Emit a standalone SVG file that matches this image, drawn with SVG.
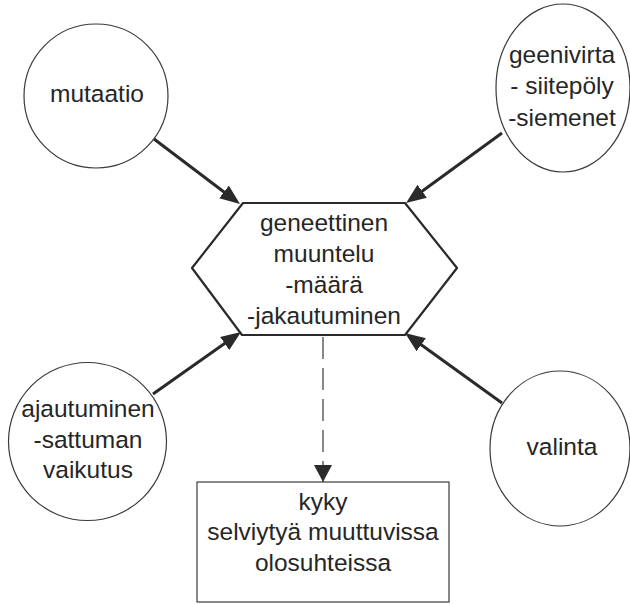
<svg xmlns="http://www.w3.org/2000/svg" width="630" height="604" viewBox="0 0 630 604">
<style>
.node{fill:#fff;stroke:#3a3a3a;stroke-width:1.2}
.hex{fill:#fff;stroke:#2a2a2a;stroke-width:2.2;stroke-linejoin:round}
.lbl{font-family:"Liberation Sans",Arial,sans-serif;font-size:24.5px;fill:#262626;text-anchor:middle}
.arr{stroke:#2a2a2a;stroke-width:3;fill:none}
.dash{stroke:#3a3a3a;stroke-width:1.2;fill:none;stroke-dasharray:22 9}
</style>
<defs>
<marker id="ah" viewBox="0 0 20 16" refX="12" refY="8" markerWidth="20" markerHeight="16" markerUnits="userSpaceOnUse" orient="auto">
<path d="M0,0 L20,8 L0,16 Z" fill="#2a2a2a"/>
</marker>
<marker id="ahd" viewBox="0 0 17 18" refX="17" refY="9" markerWidth="17" markerHeight="18" markerUnits="userSpaceOnUse" orient="auto">
<path d="M0,0 L17,9 L0,18 Z" fill="#2a2a2a"/>
</marker>
</defs>
<rect width="630" height="604" fill="#fff"/>
<g id="connectors">
<line class="arr" x1="154" y1="139" x2="233.6" y2="199.2" marker-end="url(#ah)"/>
<line class="arr" x1="502" y1="133" x2="412.5" y2="198.3" marker-end="url(#ah)"/>
<line class="arr" x1="153" y1="394" x2="234.5" y2="336.6" marker-end="url(#ah)"/>
<line class="arr" x1="502" y1="403" x2="411.5" y2="337.7" marker-end="url(#ah)"/>
<line class="dash" x1="323" y1="337" x2="323" y2="482" marker-end="url(#ahd)"/>
</g>
<g id="mutaatio">
<circle class="node" cx="96" cy="96" r="72"/>
<text class="lbl" x="97" y="102">mutaatio</text>
</g>
<g id="geenivirta">
<ellipse class="node" cx="563" cy="88" rx="67" ry="84"/>
<text class="lbl" x="562" y="63">geenivirta</text>
<text class="lbl" x="562" y="94">- siitepöly</text>
<text class="lbl" x="562" y="126">-siemenet</text>
</g>
<g id="muuntelu">
<polygon class="hex" points="243,203 405,203 457,268 405,335 242,335 192,268"/>
<text class="lbl" x="324" y="231">geneettinen</text>
<text class="lbl" x="324" y="262">muuntelu</text>
<text class="lbl" x="324" y="293">-määrä</text>
<text class="lbl" x="324" y="324">-jakautuminen</text>
</g>
<g id="ajautuminen">
<circle class="node" cx="87.5" cy="441.5" r="79"/>
<text class="lbl" x="88" y="417">ajautuminen</text>
<text class="lbl" x="88" y="448">-sattuman</text>
<text class="lbl" x="88" y="478">vaikutus</text>
</g>
<g id="valinta">
<ellipse class="node" cx="560" cy="448.5" rx="70" ry="77.5"/>
<text class="lbl" x="562" y="455">valinta</text>
</g>
<g id="kyky">
<rect class="node" x="197" y="482" width="252" height="120"/>
<text class="lbl" x="323" y="510">kyky</text>
<text class="lbl" x="323" y="540">selviytyä muuttuvissa</text>
<text class="lbl" x="323" y="571">olosuhteissa</text>
</g>
</svg>
